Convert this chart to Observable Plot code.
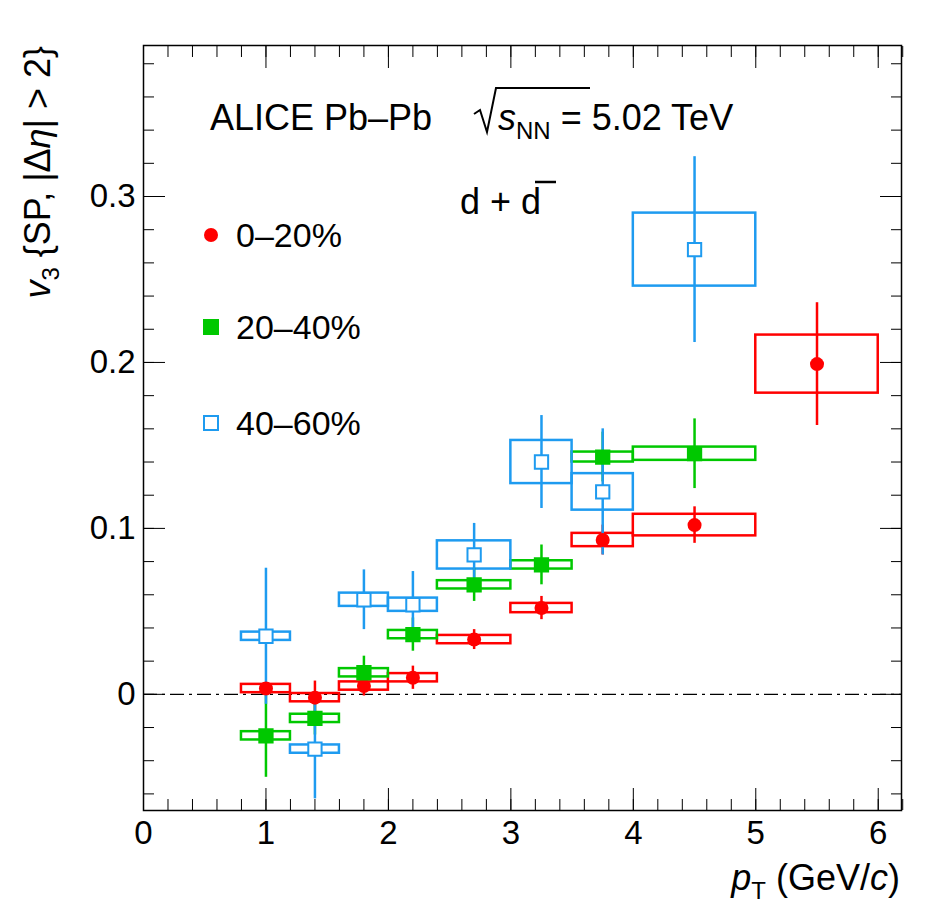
<!DOCTYPE html>
<html><head><meta charset="utf-8">
<script src="https://cdn.jsdelivr.net/npm/d3@7"></script>
<script src="https://cdn.jsdelivr.net/npm/@observablehq/plot@0.6"></script>
<style>body{margin:0;background:#fff}</style>
</head><body><div id="c"></div>
<script>
const ptC = [1, 1.4, 1.8, 2.2, 2.7, 3.25, 3.75, 4.5, 5.5];
const ptLo = [0.8, 1.2, 1.6, 2.0, 2.4, 3.0, 3.5, 4.0, 5.0];
const ptHi = [1.2, 1.6, 2.0, 2.4, 3.0, 3.5, 4.0, 5.0, 6.0];
const v3_0_20 = [0.0035, -0.002, 0.005, 0.010, 0.033, 0.052, 0.093, 0.102, 0.199];
const stat_0_20 = [0.003, 0.010, 0.006, 0.007, 0.006, 0.007, 0.009, 0.011, 0.037];
const sys_0_20 = [0.0025, 0.0025, 0.0025, 0.0025, 0.0025, 0.0028, 0.004, 0.0065, 0.0175];
const v3_20_40 = [-0.025, -0.0145, 0.013, 0.036, 0.066, 0.078, 0.143, 0.145];
const stat_20_40 = [0.025, 0.010, 0.010, 0.010, 0.010, 0.012, 0.015, 0.021];
const sys_20_40 = [0.0025, 0.0025, 0.0025, 0.0025, 0.0025, 0.0025, 0.003, 0.004];
const v3_40_60 = [0.035, -0.033, 0.057, 0.054, 0.084, 0.140, 0.122, 0.268];
const stat_40_60 = [0.041, 0.030, 0.018, 0.020, 0.019, 0.028, 0.038, 0.056];
const sys_40_60 = [0.0025, 0.0025, 0.004, 0.004, 0.0085, 0.013, 0.011, 0.022];
const series = [
  {name:"0–20%", v:v3_0_20, s:stat_0_20, y:sys_0_20, color:"#ff0000", sym:"circle", fill:"#ff0000"},
  {name:"20–40%", v:v3_20_40, s:stat_20_40, y:sys_20_40, color:"#00c800", sym:"square", fill:"#00c800"},
  {name:"40–60%", v:v3_40_60, s:stat_40_60, y:sys_40_60, color:"#1e9bf0", sym:"square", fill:"white"}
];
const rows = [];
series.forEach(S => S.v.forEach((v,i) => rows.push({
  g:S.name, x:ptC[i], lo:ptLo[i], hi:ptHi[i], v, s1:v-S.s[i], s2:v+S.s[i], y1:v-S.y[i], y2:v+S.y[i], color:S.color, fill:S.fill, sym:S.sym})));
const xMaj=[0,1,2,3,4,5,6], xMin=d3.range(0,6.21,0.2);
const yMaj=[0,0.1,0.2,0.3], yMin=d3.range(-0.06,0.391,0.02);
const font = "Liberation Sans, Arial, sans-serif";
const marks = [
  Plot.frame({stroke:"black", strokeWidth:1.5}),
  Plot.ruleY([0], {stroke:"black", strokeWidth:1.2, strokeDasharray:"14,5,3,5"}),
  Plot.axisX({ticks:xMaj, tickSize:-22, tickPadding:32, tickFormat:d=>d, anchor:"bottom", ariaLabel:"xlab"}),
  Plot.axisX({ticks:xMin, tickSize:-11, anchor:"bottom", text:null}),
  Plot.axisX({ticks:xMaj, tickSize:-22, anchor:"top", text:null}),
  Plot.axisX({ticks:xMin, tickSize:-11, anchor:"top", text:null}),
  Plot.axisY({ticks:yMaj, tickSize:-22, tickPadding:30, tickFormat:d=>d===0?"0":d3.format(".1f")(d), anchor:"left", ariaLabel:"ylab"}),
  Plot.axisY({ticks:yMin, tickSize:-11, anchor:"left", text:null}),
  Plot.axisY({ticks:yMaj, tickSize:-22, anchor:"right", text:null}),
  Plot.axisY({ticks:yMin, tickSize:-11, anchor:"right", text:null}),
  Plot.rect(rows, {x1:"lo", x2:"hi", y1:"y1", y2:"y2", stroke:"color", fill:"none", strokeWidth:2.5}),
  Plot.ruleX(rows, {x:"x", y1:"s1", y2:"s2", stroke:"color", strokeWidth:2.5}),
  Plot.dot(rows.filter(d=>d.sym==="circle"), {x:"x", y:"v", symbol:"circle", fill:"fill", r:7}),
  Plot.dot(rows.filter(d=>d.sym==="square"), {x:"x", y:"v", symbol:"square", fill:"fill", stroke:"color", strokeWidth:2, r:7.5})
];
const plot = Plot.plot({
  width:950, height:912, marginLeft:143, marginRight:49, marginTop:45, marginBottom:102,
  style:{fontFamily:font, background:"white"},
  x:{domain:[0,6.19], axis:null},
  y:{domain:[-0.07,0.391], axis:null},
  color:{type:"identity"},
  marks
});
const svg = d3.select(plot);
svg.selectAll("text").attr("font-family", font).attr("font-size", 33);
const T = (x,y,t,opts={}) => svg.append("text").attr("x",x).attr("y",y).attr("font-family",font)
  .attr("font-size",opts.fs||36).attr("text-anchor",opts.anchor||"start").attr("fill","black").html(t);
T(210,130,"ALICE Pb–Pb");
svg.append("path").attr("d","M474 114 L480 110 L487 132 L496 88 L590 88").attr("fill","none").attr("stroke","black").attr("stroke-width",2);
T(498,130,'<tspan font-style="italic">s</tspan><tspan font-size="24" dy="9">NN</tspan><tspan dy="-9"> = 5.02 TeV</tspan>');
T(460,214,'d + d');
svg.append("line").attr("x1",535).attr("x2",556).attr("y1",182).attr("y2",182).attr("stroke","black").attr("stroke-width",2.5);
const leg = [[235,series[0]],[327,series[1]],[423,series[2]]];
leg.forEach(([yy,S])=>{
  if(S.sym==="circle") svg.append("circle").attr("cx",211).attr("cy",yy).attr("r",7).attr("fill",S.fill);
  else svg.append("rect").attr("x",204).attr("y",yy-7).attr("width",14).attr("height",14).attr("fill",S.fill).attr("stroke",S.color).attr("stroke-width",2);
  T(236,yy+12,S.name,{fs:34});
});
T(900,890,'<tspan font-style="italic">p</tspan><tspan font-size="24" dy="9">T</tspan><tspan dy="-9"> (GeV/</tspan><tspan font-style="italic">c</tspan>)',{anchor:"end"});
svg.append("text").attr("transform","translate(50,46) rotate(-90)").attr("text-anchor","end").attr("font-family",font).attr("font-size",36)
  .html('<tspan font-style="italic">v</tspan><tspan font-size="24" dy="9">3</tspan><tspan dy="-9"> {SP, |Δ</tspan><tspan font-style="italic">η</tspan>| &gt; 2}');
document.getElementById("c").append(plot);
</script></body></html>
